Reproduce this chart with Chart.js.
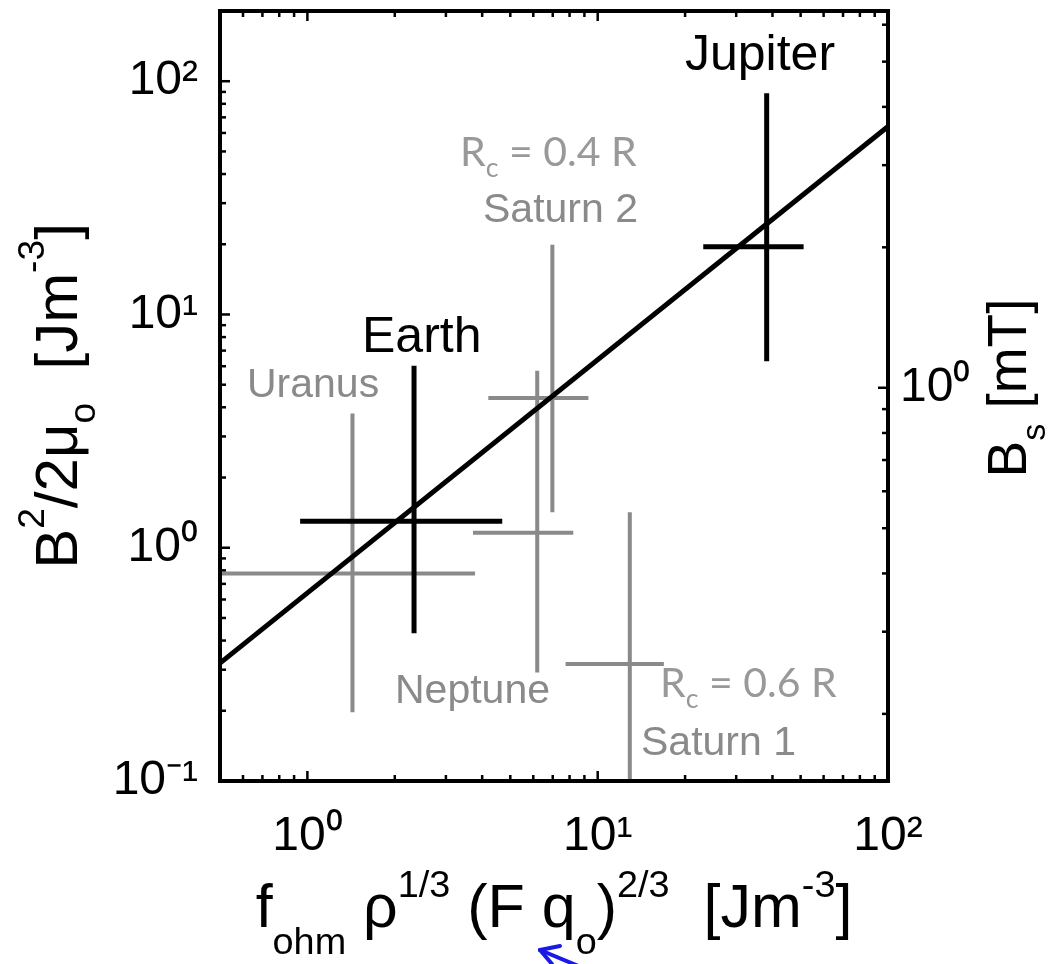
<!DOCTYPE html>
<html><head><meta charset="utf-8">
<script src="https://cdn.jsdelivr.net/npm/chart.js@4/dist/chart.umd.min.js"></script>
<style>html,body{margin:0;padding:0;background:#fff;}canvas{display:block;}</style>
</head><body>
<canvas id="c" width="1059" height="964"></canvas>
<script>
// ---- data ----
const planets     = ['Jupiter', 'Earth', 'Uranus', 'Saturn 2', 'Neptune', 'Saturn 1'];
const planetGroup = ['black', 'black', 'gray', 'gray', 'gray', 'gray'];
const xCenter = [38.2, 2.33, 1.43, 6.98, 6.19, 12.9];
const xLow    = [23.1, 0.944, 0.45, 4.20, 3.72, 7.75];
const xHigh   = [51.2, 4.69, 3.78, 9.29, 8.24, 16.9];
const yCenter = [19.5, 1.30, 0.776, 4.39, 1.16, 0.317];
const yLow    = [6.3, 0.43, 0.197, 1.42, 0.292, 0.08];
const yHigh   = [88.8, 6.03, 3.76, 19.9, 5.74, 1.42];
const fitX = [0.5, 100];
const fitY = [0.32, 64];
const xTickValues  = [1, 10, 100];
const xTickLabels  = ['10\u2070', '10\u00b9', '10\u00b2'];
const yTickValues  = [0.1, 1, 10, 100];
const yTickLabels  = ['10\u207b\u00b9', '10\u2070', '10\u00b9', '10\u00b2'];
const y2TickValues = [1];
const y2TickLabels = ['10\u2070'];

const SANS = "'Liberation Sans', Arial, Helvetica, sans-serif";
const GRAY = '#8a8a8a';

function logTicks(min, max) {
  const out = [];
  for (let e = Math.floor(Math.log10(min)); e <= Math.ceil(Math.log10(max)); e++) {
    for (let m = 1; m < 10; m++) {
      const v = +(m * Math.pow(10, e)).toPrecision(6);
      if (v >= min * 0.999999 && v <= max * 1.000001) out.push({ value: v });
    }
  }
  return out;
}
function labelFor(values, labels) {
  return function (v) {
    for (let i = 0; i < values.length; i++) if (Math.abs(v - values[i]) < values[i] * 1e-6) return labels[i];
    return '';
  };
}
function isMajor(v) { const l = Math.log10(v); return Math.abs(l - Math.round(l)) < 1e-6; }
function fixSize(prop, size) {
  return function (s) {
    s[prop] = size;
    s.paddingTop = 0; s.paddingBottom = 0; s.paddingLeft = 0; s.paddingRight = 0;
  };
}

const datasets = [];
planets.forEach((p, i) => {
  const black = planetGroup[i] === 'black';
  datasets.push({
    label: p,
    data: [
      { x: xLow[i], y: yCenter[i] }, { x: xHigh[i], y: yCenter[i] },
      { x: xCenter[i], y: null },
      { x: xCenter[i], y: yLow[i] }, { x: xCenter[i], y: yHigh[i] }
    ],
    showLine: true, spanGaps: false, pointRadius: 0,
    borderColor: black ? '#000' : GRAY, borderWidth: black ? 5 : 4,
    borderCapStyle: 'butt', clip: 0, order: black ? 2 : 3
  });
});
datasets.push({
  label: 'fit', data: fitX.map((x, i) => ({ x, y: fitY[i] })),
  showLine: true, pointRadius: 0, borderColor: '#000', borderWidth: 5, clip: 0, order: 0
});

function drawRuns(ctx, runs, x, y, size, family, color, align) {
  ctx.fillStyle = color; ctx.textBaseline = 'alphabetic'; ctx.textAlign = 'left';
  let w = 0;
  runs.forEach(r => { ctx.font = (size * r[1]) + 'px ' + family; w += ctx.measureText(r[0]).width; });
  let cx = align === 'center' ? x - w / 2 : x;
  runs.forEach(r => {
    ctx.font = (size * r[1]) + 'px ' + family;
    ctx.fillText(r[0], cx, y + r[2] * size);
    cx += ctx.measureText(r[0]).width;
  });
}

const decor = {
  id: 'decor',
  afterDraw(chart) {
    const ctx = chart.ctx, a = chart.chartArea;
    const sx = chart.scales.x, sy = chart.scales.y, sy2 = chart.scales.y2;
    ctx.save();
    ctx.strokeStyle = '#000'; ctx.lineWidth = 2.5; ctx.lineCap = 'butt';
    const seg = (x1, y1, x2, y2) => { ctx.beginPath(); ctx.moveTo(x1, y1); ctx.lineTo(x2, y2); ctx.stroke(); };
    sx.ticks.forEach(t => {
      const p = sx.getPixelForValue(t.value);
      if (p <= a.left + 2 || p >= a.right - 2) return;
      const L = isMajor(t.value) ? 10 : 6;
      seg(p, a.bottom, p, a.bottom - L); seg(p, a.top, p, a.top + L);
    });
    sy.ticks.forEach(t => {
      const p = sy.getPixelForValue(t.value);
      if (p <= a.top + 2 || p >= a.bottom - 2) return;
      seg(a.left, p, a.left + (isMajor(t.value) ? 10 : 6), p);
    });
    sy2.ticks.forEach(t => {
      const p = sy2.getPixelForValue(t.value);
      if (p <= a.top + 2 || p >= a.bottom - 2) return;
      seg(a.right, p, a.right - (isMajor(t.value) ? 10 : 6), p);
    });
    ctx.lineWidth = 4;
    ctx.strokeRect(a.left, a.top, a.right - a.left, a.bottom - a.top);

    // axis titles
    drawRuns(ctx, [['f', 1, 0], ['ohm', 0.62, 0.45], [' \u03c1', 1, 0], ['1/3', 0.62, -0.5],
                   [' (F q', 1, 0], ['o', 0.62, 0.45], [')', 1, 0], ['2/3', 0.62, -0.5],
                   ['  [Jm', 1, 0], ['-3', 0.62, -0.5], [']', 1, 0]],
             (a.left + a.right) / 2, 927, 61, SANS, '#000', 'center');
    ctx.save(); ctx.translate(77, (a.top + a.bottom) / 2); ctx.rotate(-Math.PI / 2);
    drawRuns(ctx, [['B', 1, 0], ['2', 0.62, -0.55], ['/2\u03bc', 1, 0], ['o', 0.62, 0.3],
                   ['  [Jm', 1, 0], ['-3', 0.62, -0.55], [']', 1, 0]], 0, 0, 60, SANS, '#000', 'center');
    ctx.restore();
    ctx.save(); ctx.translate(1026, 388); ctx.rotate(-Math.PI / 2);
    drawRuns(ctx, [['B', 1, 0], ['s', 0.62, 0.35], [' [mT]', 1, 0]], 0, 0, 55, SANS, '#000', 'center');
    ctx.restore();

    // annotations
    drawRuns(ctx, [['Jupiter', 1, 0]], 685, 70, 50, SANS, '#000');
    drawRuns(ctx, [['Earth', 1, 0]], 362, 352, 50, SANS, '#000');
    drawRuns(ctx, [['Uranus', 1, 0]], 247, 397, 41, SANS, GRAY);
    drawRuns(ctx, [['Saturn 2', 1, 0]], 483, 222, 41, SANS, GRAY);
    drawRuns(ctx, [['Neptune', 1, 0]], 395, 703, 41, SANS, GRAY);
    drawRuns(ctx, [['Saturn 1', 1, 0]], 641, 755, 41, SANS, GRAY);
    drawRuns(ctx, [['R', 1, 0], ['c', 0.65, 0.28], [' = 0.4 R', 1, 0]], 460, 166, 41, 'Lato, sans-serif', '#999');
    drawRuns(ctx, [['R', 1, 0], ['c', 0.65, 0.28], [' = 0.6 R', 1, 0]], 660, 697, 41, 'Lato, sans-serif', '#999');

    // blue pointer arrow at the bottom
    ctx.strokeStyle = '#1a1ae6'; ctx.lineWidth = 4; ctx.lineCap = 'round';
    seg(540, 950, 600, 975);
    seg(540, 950, 560, 946); seg(540, 950, 552, 964);
    ctx.restore();
  }
};

const tickFont = { family: SANS, size: 48 };
new Chart(document.getElementById('c'), {
  type: 'scatter',
  data: { datasets },
  options: {
    responsive: false, animation: false, devicePixelRatio: 1,
    layout: { padding: { top: 11, left: 0, right: 0, bottom: 0 } },
    plugins: { legend: { display: false }, tooltip: { enabled: false } },
    scales: {
      x: {
        type: 'logarithmic', position: 'bottom', min: 0.5, max: 100,
        afterBuildTicks(s) { s.ticks = logTicks(0.5, 100); },
        afterFit: fixSize('height', 183),
        grid: { display: false, drawTicks: false }, border: { display: false },
        ticks: { autoSkip: false, maxRotation: 0, padding: 27, color: '#000', font: tickFont,
                 callback: labelFor(xTickValues, xTickLabels) }
      },
      y: {
        type: 'logarithmic', position: 'left', min: 0.1, max: 200,
        afterBuildTicks(s) { s.ticks = logTicks(0.1, 200); },
        afterFit: fixSize('width', 220),
        grid: { display: false, drawTicks: false }, border: { display: false },
        ticks: { autoSkip: false, padding: 22, color: '#000', font: tickFont,
                 callback: labelFor(yTickValues, yTickLabels) }
      },
      y2: {
        type: 'logarithmic', position: 'right', min: 0.1436, max: 6.42,
        afterBuildTicks(s) { s.ticks = logTicks(0.1436, 6.42); },
        afterFit: fixSize('width', 171),
        grid: { display: false, drawTicks: false }, border: { display: false },
        ticks: { autoSkip: false, padding: 12, color: '#000', font: tickFont,
                 callback: labelFor(y2TickValues, y2TickLabels) }
      }
    }
  },
  plugins: [decor]
});
</script>
</body></html>
